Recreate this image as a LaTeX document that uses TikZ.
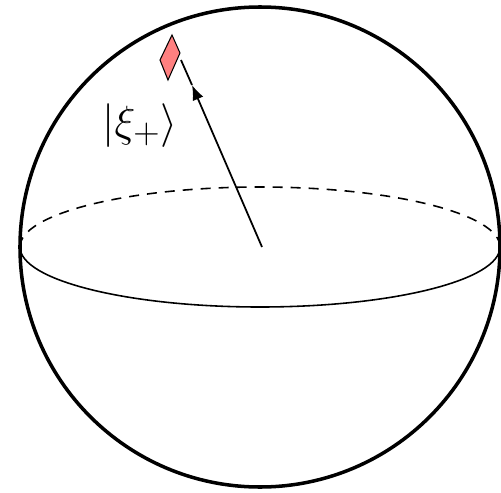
\documentclass[tikz,border=0pt]{standalone}
\usepackage{amsmath}
\usetikzlibrary{arrows.meta}

\begin{document}
\begin{tikzpicture}[
			sphere/.style={line width=2pt},
			equator/.style={line width=0.9pt},
			backline/.style={line width=0.9pt, dash pattern=on 0.2cm off 0.16cm},
			vec/.style={line width=1pt},
			arrow/.style={-{Latex[length=3mm, width=2.3mm]}, line width=1pt},
			plate/.style={draw, fill=red!50, line width=0.6pt, line join=miter}
		]
		\useasboundingbox (-5.2,-4.9) rectangle (4.82,4.94);
		
		% sphere and equator
		\coordinate (o) at (0,0);
		\draw[sphere] (o) circle (4.8);
		\draw[backline] (-4.8,0) arc[start angle=180, end angle=0, x radius=4.8, y radius=1.2];
		\draw[equator] (-4.8,0) arc[start angle=180, end angle=360, x radius=4.8, y radius=1.2];
		
		% state vector
		\coordinate (base) at (0.04,0);
		\coordinate (tip) at (-1.36,3.24);
		\coordinate (top) at (-1.58,3.74);
		\draw[arrow] (base) -- (tip);
		\draw[vec] (tip) -- (top);
		
		% small plate at the end
		\coordinate (p1) at (-1.76,4.24);
		\coordinate (p2) at (-1.60,3.88);
		\coordinate (p3) at (-1.84,3.34);
		\coordinate (p4) at (-2.00,3.74);
		\draw[plate] (p1) -- (p2) -- (p3) -- (p4) -- cycle;
		
		% label
		\node[font=\Huge] (ket) at (-2.4,2.42) {$|\xi_{+}\rangle$};
		\end{tikzpicture}
\end{document}
